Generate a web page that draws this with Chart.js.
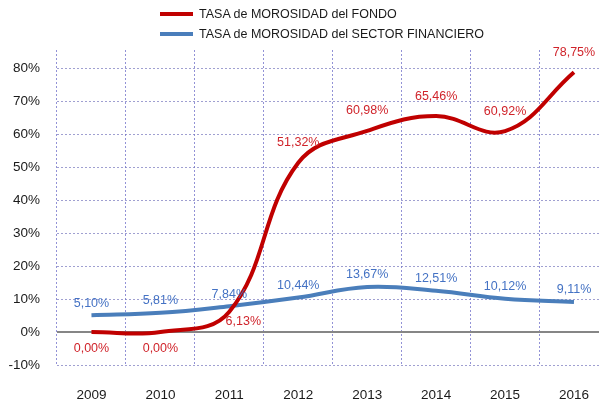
<!DOCTYPE html>
<html>
<head>
<meta charset="utf-8">
<script src="https://cdn.jsdelivr.net/npm/chart.js@4.4.0/dist/chart.umd.min.js"></script>
<style>
html, body { margin: 0; padding: 0; overflow: hidden; background: #fff; }
#wrap { position: relative; width: 611px; height: 403px; }
#leyenda { position: absolute; left: 160px; top: 4px; font: 12.5px 'Liberation Sans', Arial, sans-serif; color: #1a1a1a; }
.item { height: 20px; line-height: 20px; white-space: nowrap; }
.linea { display: inline-block; width: 33px; height: 4px; vertical-align: middle; margin-right: 6px; position: relative; top: -1px; }
</style>
</head>
<body>
<div id="wrap">
  <div id="leyenda"></div>
  <canvas id="grafico" width="611" height="403"></canvas>
</div>
<script>
// datos
var anios = ['2009', '2010', '2011', '2012', '2013', '2014', '2015', '2016'];
var fondo = [0.00, 0.00, 6.13, 51.32, 60.98, 65.46, 60.92, 78.75];
var sector = [5.10, 5.81, 7.84, 10.44, 13.67, 12.51, 10.12, 9.11];
var ticksY = [-10, 0, 10, 20, 30, 40, 50, 60, 70, 80];

// donde va cada etiqueta
var posFondo = ['abajo', 'abajo', 'derecha', 'arriba', 'arriba', 'arriba', 'arriba', 'arriba'];
var posSector = ['arriba', 'arriba', 'arriba', 'arriba', 'arriba', 'arriba', 'arriba', 'arriba'];

var fuente = "'Liberation Sans', Arial, sans-serif";

var ctx = document.getElementById('grafico').getContext('2d');

// etiquetas de datos
var etiquetas = {
  id: 'etiquetas',
  afterDatasetsDraw: function(chart) {
    var c = chart.ctx;
    c.save();
    c.font = '12.5px ' + fuente;
    c.textAlign = 'center';
    c.textBaseline = 'middle';
    chart.data.datasets.forEach(function(ds, i) {
      var meta = chart.getDatasetMeta(i);
      meta.data.forEach(function(pt, j) {
        var txt = ds.data[j].toFixed(2).replace('.', ',') + '%';
        var x = pt.x, y = pt.y;
        var pos = ds.posiciones[j];
        if (pos == 'arriba') y -= ds.subida;
        else if (pos == 'abajo') y += 17;
        else { x += 14; y += 10; }
        c.fillStyle = ds.colorEtiqueta;
        c.fillText(txt, x, y);
      });
    });
    c.restore();
  }
};

// linea del cero
var lineaCero = {
  id: 'lineaCero',
  beforeDatasetsDraw: function(chart) {
    var c = chart.ctx;
    var y = Math.round(chart.scales.y.getPixelForValue(0));
    c.save();
    c.strokeStyle = '#868686';
    c.lineWidth = 2;
    c.beginPath();
    c.moveTo(chart.chartArea.left, y);
    c.lineTo(chart.chartArea.right, y);
    c.stroke();
    c.restore();
  }
};

var data = {
  labels: anios,
  datasets: [{
    label: 'TASA de MOROSIDAD del FONDO',
    data: fondo,
    borderColor: '#c00000',
    colorEtiqueta: '#d0242b',
    posiciones: posFondo,
    subida: 20,
    borderWidth: 4,
    tension: 0.4,
    pointRadius: 0,
    fill: false
  }, {
    label: 'TASA de MOROSIDAD del SECTOR FINANCIERO',
    data: sector,
    borderColor: '#4a7ebb',
    colorEtiqueta: '#4472c4',
    posiciones: posSector,
    subida: 12,
    borderWidth: 4,
    tension: 0.4,
    pointRadius: 0,
    fill: false
  }]
};

var options = {
  responsive: false,
  animation: false,
  layout: { padding: { top: 50, right: 0, left: 0, bottom: 0 } },
  scales: {
    x: {
      offset: true,
      grid: {
        offset: true,
        color: 'rgba(110,110,200,0.75)',
        drawTicks: false
      },
      border: { display: false, dash: [2, 2] },
      ticks: { padding: 22, color: '#1a1a1a', font: { family: fuente, size: 13.5 } },
      afterFit: function(s) { s.height = 38; }
    },
    y: {
      min: -10,
      max: 85.5,
      ticks: {
        stepSize: 10,
        includeBounds: false,
        padding: 17,
        color: '#1a1a1a',
        font: { family: fuente, size: 13.5 },
        callback: function(v) { return ticksY.indexOf(v) >= 0 ? v + '%' : null; }
      },
      grid: {
        drawTicks: false,
        color: function(c) {
          if (c.tick && c.tick.value === 0) return 'rgba(0,0,0,0)';
          return 'rgba(120,120,190,0.7)';
        }
      },
      border: { display: false, dash: [2, 2] },
      afterFit: function(s) { s.width = 57; }
    }
  },
  plugins: {
    legend: { display: false },
    tooltip: { enabled: false }
  }
};

var grafico = new Chart(ctx, {
  type: 'line',
  data: data,
  options: options,
  plugins: [lineaCero, etiquetas]
});

// leyenda en html
var leyenda = document.getElementById('leyenda');
data.datasets.forEach(function(ds) {
  var d = document.createElement('div');
  d.className = 'item';
  var l = document.createElement('span');
  l.className = 'linea';
  l.style.background = ds.borderColor;
  d.appendChild(l);
  d.appendChild(document.createTextNode(ds.label));
  leyenda.appendChild(d);
});
</script>
</body>
</html>
